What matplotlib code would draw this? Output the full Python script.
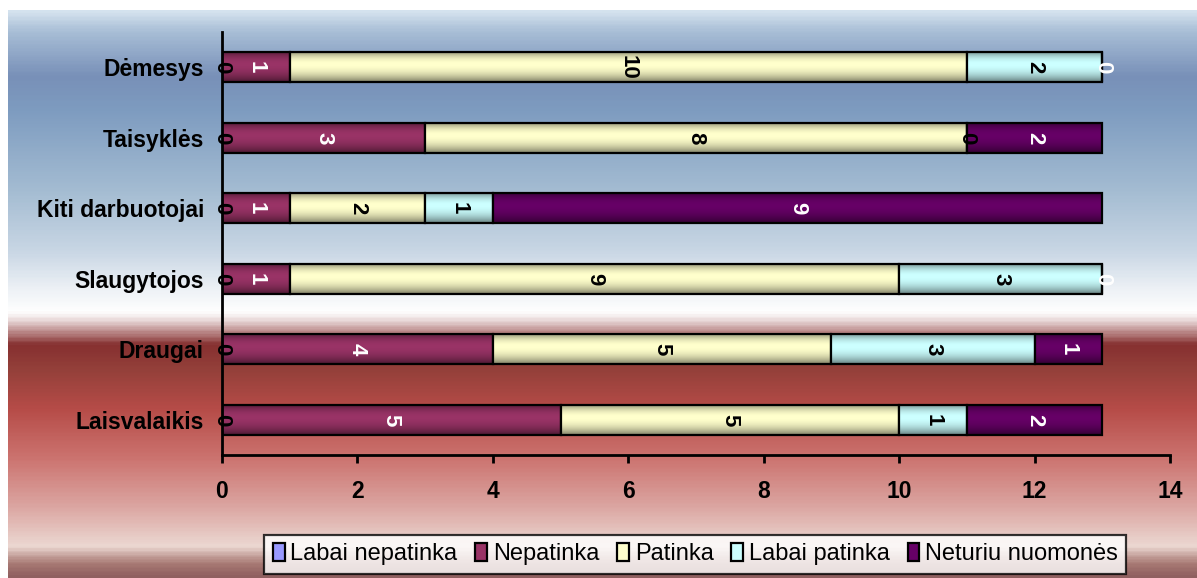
import numpy as np
import matplotlib
matplotlib.use("Agg")
import matplotlib.pyplot as plt
from matplotlib.colors import LinearSegmentedColormap
from matplotlib.patches import Patch

plt.rcParams['font.family'] = ['Liberation Sans', 'DejaVu Sans']

categories = ['Laisvalaikis', 'Draugai', 'Slaugytojos', 'Kiti darbuotojai', 'Taisyklės', 'Dėmesys']
series_names = ['Labai nepatinka', 'Nepatinka', 'Patinka', 'Labai patinka', 'Neturiu nuomonės']
labai_nepatinka = [0, 0, 0, 0, 0, 0]
nepatinka = [5, 4, 1, 1, 3, 1]
patinka = [5, 5, 9, 2, 8, 10]
labai_patinka = [1, 3, 3, 1, 0, 2]
neturiu = [2, 1, 0, 9, 2, 0]
x_ticks = [0, 2, 4, 6, 8, 10, 12, 14]

colors = ['#9999ff', '#993366', '#ffffcc', '#ccffff', '#660066']
label_colors = ['black', 'white', 'black', 'black', 'white']

W, H = 1197, 578
fig = plt.figure(figsize=(W / 100, H / 100), dpi=100)
fig.patch.set_facecolor('white')

# background gradient (blue top, white band, red bottom)
stops = [
    (10, '#d4e2ee'), (30, '#a8bed6'), (75, '#7890b8'), (110, '#7e9cc0'),
    (190, '#a4bcd2'), (250, '#c8d6e4'), (290, '#eef2f6'), (312, '#ffffff'),
    (322, '#e4d0d0'), (345, '#863030'), (370, '#94403a'), (410, '#b64c48'),
    (460, '#cc7470'), (510, '#dca8a4'), (548, '#ecd8d2'), (565, '#a87a74'),
    (578, '#906060'),
]
y0 = stops[0][0]
pos = [(p - y0) / (H - y0) for p, _ in stops]
cmap = LinearSegmentedColormap.from_list('bg', list(zip(pos, [c for _, c in stops])))
bg = fig.add_axes([8 / W, 0, 1 - 8 / W, 1 - y0 / H])
bg.imshow(np.linspace(0, 1, 400).reshape(-1, 1), cmap=cmap, aspect='auto',
          extent=[0, 1, 0, 1], origin='upper')
bg.axis('off')
bg.set_zorder(-1)

ax = fig.add_axes([222 / W, 1 - 455 / H, (1170 - 222) / W, (455 - 32) / H])
ax.set_facecolor('none')

data = [labai_nepatinka, nepatinka, patinka, labai_patinka, neturiu]
y = np.arange(len(categories))
bar_h = 0.42
left = np.zeros(len(categories))

# shading profile across bar height
t = np.linspace(0, 1, 60)
alpha = np.where(t < 0.4, 0.4 * ((0.4 - t) / 0.4) ** 2, 0.5 * ((t - 0.4) / 0.6) ** 2)
shade = np.zeros((60, 1, 4))
shade[:, 0, 3] = alpha

for vals, name, col, lc in zip(data, series_names, colors, label_colors):
    vals = np.array(vals, dtype=float)
    bars = ax.barh(y, vals, height=bar_h, left=left, color=col,
                   edgecolor='black', linewidth=1.6, label=name, zorder=2)
    for b in bars:
        if b.get_width() > 0:
            im = ax.imshow(shade, aspect='auto', zorder=2.5, origin='upper',
                           extent=[b.get_x(), b.get_x() + b.get_width(),
                                   b.get_y(), b.get_y() + b.get_height()])
            im.set_clip_path(b)
    for yi, l, v in zip(y, left, vals):
        ax.text(l + v / 2, yi, f'{int(v)}', rotation=-90, ha='center', va='center',
                color=lc, fontsize=16, fontweight='bold', zorder=4)
    left = left + vals

ax.set_xlim(0, 14)
ax.set_ylim(-0.5, len(categories) - 0.5)
ax.set_xticks(x_ticks)
ax.set_yticks(y)
ax.set_yticklabels(categories, fontsize=16.5, fontweight='bold')
for lab in ax.get_xticklabels():
    lab.set_fontsize(16.5)
    lab.set_fontweight('bold')
ax.tick_params(axis='y', length=0, pad=13)
ax.tick_params(axis='x', length=6, width=2, direction='out', pad=12)
for s in ['top', 'right']:
    ax.spines[s].set_visible(False)
for s in ['left', 'bottom']:
    ax.spines[s].set_linewidth(2)
    ax.spines[s].set_zorder(3)

handles = [Patch(facecolor=c, edgecolor='black', linewidth=1.6) for c in colors]
leg = fig.legend(handles, series_names, loc='center', bbox_to_anchor=(0.581, 0.041),
                 ncol=5, fontsize=17, frameon=True, fancybox=False, borderpad=0.35,
                 handlelength=0.5, handleheight=0.8, handletextpad=0.25,
                 columnspacing=0.75, borderaxespad=0)
leg.get_frame().set_edgecolor('black')
leg.get_frame().set_linewidth(1.6)
leg.get_frame().set_facecolor('white')

fig.savefig('out.png', dpi=100)
